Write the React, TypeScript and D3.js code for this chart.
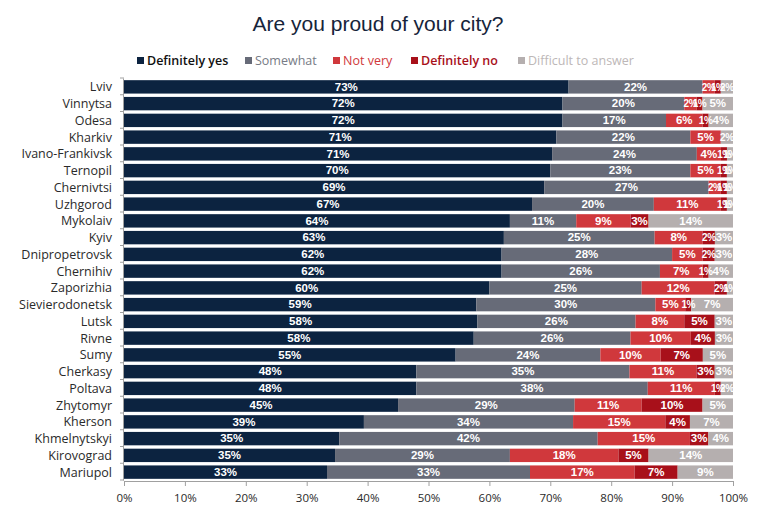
import * as d3 from "d3";
import { useEffect, useRef } from "react";

const cities = [
  "Lviv", "Vinnytsa", "Odesa", "Kharkiv", "Ivano-Frankivsk", "Ternopil",
  "Chernivtsi", "Uzhgorod", "Mykolaiv", "Kyiv", "Dnipropetrovsk", "Chernihiv",
  "Zaporizhia", "Sievierodonetsk", "Lutsk", "Rivne", "Sumy", "Cherkasy",
  "Poltava", "Zhytomyr", "Kherson", "Khmelnytskyi", "Kirovograd", "Mariupol",
];

const definitelyYes = [73, 72, 72, 71, 71, 70, 69, 67, 64, 63, 62, 62, 60, 59, 58, 58, 55, 48, 48, 45, 39, 35, 35, 33];
const somewhat = [22, 20, 17, 22, 24, 23, 27, 20, 11, 25, 28, 26, 25, 30, 26, 26, 24, 35, 38, 29, 34, 42, 29, 33];
const notVery = [2, 2, 6, 5, 4, 5, 2, 11, 9, 8, 5, 7, 12, 5, 8, 10, 10, 11, 11, 11, 15, 15, 18, 17];
const definitelyNo = [1, 1, 1, 0, 1, 1, 1, 1, 3, 2, 2, 1, 2, 1, 5, 4, 7, 3, 1, 10, 4, 3, 5, 7];
const difficult = [2, 5, 4, 2, 1, 1, 1, 1, 14, 3, 3, 4, 1, 7, 3, 3, 5, 3, 2, 5, 7, 4, 14, 9];

const seriesNames = ["Definitely yes", "Somewhat", "Not very", "Definitely no", "Difficult to answer"];
const seriesColors = ["#0c2340", "#676b78", "#d0383c", "#a8101a", "#b5afaf"];
const legendTextColors = ["#111111", "#777b86", "#d0383c", "#a8101a", "#bdb7b7"];

type Row = { city: string; [key: string]: number | string };

const App = () => {
  const ref = useRef<SVGSVGElement | null>(null);

  useEffect(() => {
    if (!ref.current) return;
    const svg = d3.select(ref.current);
    svg.selectAll("*").remove();
    const width = 770;
    const height = 513;
    const margin = { top: 78.5, right: 37, bottom: 32.5, left: 124 };

    const allSeries = [definitelyYes, somewhat, notVery, definitelyNo, difficult];
    const rows: Row[] = cities.map((c, i) => {
      const r: Row = { city: c };
      seriesNames.forEach((s, j) => (r[s] = allSeries[j][i]));
      return r;
    });

    const stacked = d3
      .stack<Row>()
      .keys(seriesNames)
      .value((d, k) => d[k] as number)
      .offset(d3.stackOffsetExpand)(rows);

    const x = d3.scaleLinear().domain([0, 1]).range([margin.left, width - margin.right]);
    const y = d3
      .scaleBand<string>()
      .domain(cities)
      .range([margin.top, height - margin.bottom])
      .paddingInner(0.2)
      .paddingOuter(0.1);

    svg.attr("width", width).attr("height", height);

    // title
    svg
      .append("text")
      .attr("x", 378)
      .attr("y", 31)
      .attr("text-anchor", "middle")
      .attr("font-family", "Liberation Sans, Arial, sans-serif")
      .attr("font-size", 21)
      .attr("fill", "#16243a")
      .text("Are you proud of your city?");

    // legend
    const legendX = [137, 245, 333, 411, 518];
    const legend = svg.append("g").attr("font-family", "Open Sans, sans-serif").attr("font-size", 12.5);
    seriesNames.forEach((s, i) => {
      legend
        .append("rect")
        .attr("x", legendX[i])
        .attr("y", 57)
        .attr("width", 7)
        .attr("height", 7)
        .attr("fill", seriesColors[i]);
      legend
        .append("text")
        .attr("x", legendX[i] + 10)
        .attr("y", 65)
        .attr("fill", legendTextColors[i])
        .attr("font-weight", i === 0 || i === 3 ? 600 : 400)
        .text(s);
    });

    // bars
    const groups = svg
      .append("g")
      .selectAll("g")
      .data(stacked)
      .join("g")
      .attr("fill", (_, i) => seriesColors[i]);

    groups
      .selectAll("rect")
      .data((d) => d)
      .join("rect")
      .attr("x", (d) => x(d[0]))
      .attr("y", (d) => y(d.data.city)!)
      .attr("width", (d) => x(d[1]) - x(d[0]))
      .attr("height", y.bandwidth());

    const labels = svg
      .append("g")
      .attr("font-family", "Liberation Sans, Arial, sans-serif")
      .attr("font-weight", "bold")
      .attr("fill", "#ffffff")
      .attr("text-anchor", "middle");

    // small segments get a slightly tighter label, as in the source they overlap
    stacked.forEach((layer) => {
      labels
        .selectAll(null)
        .data(layer.filter((d) => (d.data[layer.key] as number) >= 1))
        .join("text")
        .attr("x", (d) => (x(d[0]) + x(d[1])) / 2)
        .attr("y", (d) => y(d.data.city)! + y.bandwidth() / 2 + 3.8)
        .attr("font-size", (d) => (x(d[1]) - x(d[0]) < 15 ? 10 : 11.5))
        .attr("letter-spacing", (d) => (x(d[1]) - x(d[0]) < 15 ? -0.4 : 0))
        .text((d) => `${d.data[layer.key]}%`);
    });

    // y axis labels
    const yAxis = svg.append("g").attr("font-family", "Open Sans, sans-serif").attr("font-size", 12.5);
    yAxis
      .selectAll("text")
      .data(cities)
      .join("text")
      .attr("x", 112)
      .attr("y", (d) => y(d)! + y.bandwidth() / 2 + 4.5)
      .attr("text-anchor", "end")
      .attr("fill", "#2a2a2a")
      .text((d) => d);

    const step = y.step();
    svg
      .append("line")
      .attr("x1", margin.left - 0.5)
      .attr("x2", margin.left - 0.5)
      .attr("y1", margin.top)
      .attr("y2", height - margin.bottom)
      .attr("stroke", "#a0a0a0");
    svg
      .append("g")
      .selectAll("line")
      .data(d3.range(cities.length + 1))
      .join("line")
      .attr("x1", margin.left - 4)
      .attr("x2", margin.left)
      .attr("y1", (i) => margin.top + i * step - 0.5)
      .attr("y2", (i) => margin.top + i * step - 0.5)
      .attr("stroke", "#a0a0a0");

    // x axis
    const xAxis = svg
      .append("g")
      .attr("transform", `translate(0,${height - margin.bottom + 0.5})`)
      .call(d3.axisBottom(x).ticks(10).tickFormat(d3.format(".0%")).tickSize(5).tickSizeOuter(0));
    xAxis.select(".domain").attr("stroke", "#a0a0a0");
    xAxis.selectAll(".tick line").attr("stroke", "#a0a0a0");
    xAxis
      .selectAll(".tick text")
      .attr("font-family", "Open Sans, sans-serif")
      .attr("font-size", 11.5)
      .attr("fill", "#2a2a2a")
      .attr("dy", "1.1em");
  }, []);

  return <svg ref={ref} style={{ position: "absolute", left: 0, top: 0 }}></svg>;
};

export default App;
